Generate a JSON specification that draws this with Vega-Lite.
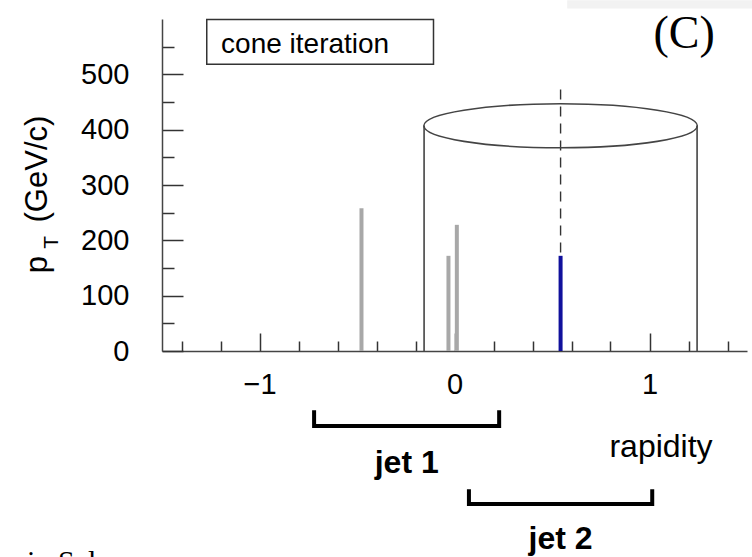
{
  "$schema": "https://vega.github.io/schema/vega-lite/v6.json",
  "width": 585,
  "height": 332,
  "autosize": {"type": "none"},
  "padding": {"left": 162, "top": 19, "right": 5, "bottom": 206},
  "background": "white",
  "config": {"view": {"stroke": null}, "font": "Liberation Sans"},
  "datasets": {
    "particles": [
      {"rapidity": -0.477, "pt": 258, "kind": "other"},
      {"rapidity": -0.031, "pt": 172, "kind": "other"},
      {"rapidity": 0.012, "pt": 228, "kind": "other"},
      {"rapidity": 0.544, "pt": 172, "kind": "seed"}
    ],
    "cone_walls": [
      {"rapidity": -0.156, "pt": 407},
      {"rapidity": 1.244, "pt": 407}
    ],
    "cone_top": [{"rapidity": 0.544, "pt": 407}],
    "cone_axis": [{"rapidity": 0.544, "pt": 178, "pt_end": 473}],
    "brackets": [
      {"bracket": "jet 1", "seq": 1, "rapidity": -0.72, "pt": -107},
      {"bracket": "jet 1", "seq": 2, "rapidity": -0.72, "pt": -135.4},
      {"bracket": "jet 1", "seq": 3, "rapidity": 0.229, "pt": -135.4},
      {"bracket": "jet 1", "seq": 4, "rapidity": 0.229, "pt": -107},
      {"bracket": "jet 2", "seq": 1, "rapidity": 0.074, "pt": -250},
      {"bracket": "jet 2", "seq": 2, "rapidity": 0.074, "pt": -276.7},
      {"bracket": "jet 2", "seq": 3, "rapidity": 1.014, "pt": -276.7},
      {"bracket": "jet 2", "seq": 4, "rapidity": 1.014, "pt": -250}
    ],
    "boxes": [
      {"role": "legend", "rapidity": -1.2705, "rapidity_end": -0.1077, "pt": 599.1, "pt_end": 518}
    ],
    "bands": [
      {"rapidity": 0.578, "rapidity_end": 1.53, "pt": 619, "pt_end": 634}
    ],
    "labels": [
      {"role": "legend", "rapidity": -1.197, "pt": 538.9, "text": "cone iteration"},
      {"role": "panel", "rapidity": 1.178, "pt": 547.4, "text": "(C)"},
      {"role": "caption", "rapidity": -2.192, "pt": -397, "text": "in Sel"},
      {"role": "xtitle", "rapidity": 1.059, "pt": -191, "text": "rapidity"},
      {"role": "jet", "rapidity": -0.245, "pt": -220, "text": "jet 1"},
      {"role": "jet", "rapidity": 0.544, "pt": -358, "text": "jet 2"},
      {"role": "ytitle", "rapidity": -2.092, "pt": 155.9, "text": "p"},
      {"role": "ytitle", "rapidity": -2.092, "pt": 328.8, "text": "(GeV/c)"},
      {"role": "ysub", "rapidity": -2.033, "pt": 196.5, "text": "T"}
    ]
  },
  "encoding": {
    "x": {
      "field": "rapidity",
      "type": "quantitative",
      "scale": {"domain": [-1.5, 1.5], "nice": false, "zero": false},
      "axis": {
        "title": null,
        "grid": false,
        "values": [-1.4, -1.2, -1, -0.8, -0.6, -0.4, -0.2, 0, 0.2, 0.4, 0.6, 0.8, 1, 1.2, 1.4],
        "labelExpr": "datum.value == -1 ? '−1' : datum.value == 0 ? '0' : datum.value == 1 ? '1' : ''",
        "tickSize": {"condition": {"test": "datum.value == -1 || datum.value == 0 || datum.value == 1", "value": -18}, "value": -10},
        "tickWidth": 1.5,
        "tickColor": "#333333",
        "domainColor": "#444444",
        "domainWidth": 1.5,
        "labelFontSize": 29,
        "labelColor": "black",
        "labelPadding": 37,
        "labelOverlap": false,
        "labelFlush": false
      }
    },
    "y": {
      "field": "pt",
      "type": "quantitative",
      "scale": {"domain": [0, 600], "nice": false, "zero": false},
      "axis": {
        "title": null,
        "grid": false,
        "values": [0, 50, 100, 150, 200, 250, 300, 350, 400, 450, 500, 550],
        "labelExpr": "datum.value % 100 == 0 ? format(datum.value, 'd') : ''",
        "tickSize": {"condition": {"test": "datum.value % 100 == 0", "value": -21}, "value": -12},
        "tickWidth": 1.5,
        "tickColor": "#333333",
        "domainColor": "#444444",
        "domainWidth": 1.5,
        "labelFontSize": 29,
        "labelColor": "black",
        "labelPadding": 54,
        "labelOverlap": false,
        "labelFlush": false
      }
    }
  },
  "layer": [
    {
      "data": {"name": "bands"},
      "mark": {"type": "rect", "color": "#f2f2f2"},
      "encoding": {"x2": {"field": "rapidity_end"}, "y2": {"field": "pt_end"}}
    },
    {
      "data": {"name": "boxes"},
      "mark": {"type": "rect", "fill": "white", "stroke": "#333333", "strokeWidth": 1.5},
      "encoding": {"x2": {"field": "rapidity_end"}, "y2": {"field": "pt_end"}}
    },
    {
      "data": {"name": "particles"},
      "mark": {"type": "rule", "strokeWidth": 4},
      "encoding": {
        "y2": {"datum": 0},
        "color": {"field": "kind", "type": "nominal", "scale": {"domain": ["other", "seed"], "range": ["#a8a8a8", "#10109c"]}, "legend": null}
      }
    },
    {
      "data": {"name": "cone_walls"},
      "mark": {"type": "rule", "strokeWidth": 1.6, "color": "#444444"},
      "encoding": {"y2": {"datum": 0}}
    },
    {
      "data": {"name": "cone_axis"},
      "mark": {"type": "rule", "strokeWidth": 1.4, "color": "#333333", "strokeDash": [10, 7]},
      "encoding": {"y2": {"field": "pt_end"}}
    },
    {
      "data": {"name": "cone_top"},
      "mark": {"type": "point", "shape": "M-1,0A1,0.161,0,1,1,1,0A1,0.161,0,1,1,-1,0Z", "size": 74750, "filled": false, "stroke": "#444444", "strokeWidth": 1.6, "opacity": 1}
    },
    {
      "data": {"name": "brackets"},
      "mark": {"type": "line", "color": "black", "strokeWidth": 4, "strokeCap": "butt", "strokeJoin": "miter"},
      "encoding": {"detail": {"field": "bracket"}, "order": {"field": "seq"}}
    },
    {
      "data": {"name": "labels"},
      "transform": [{"filter": "datum.role == 'legend'"}],
      "mark": {"type": "text", "align": "left", "baseline": "alphabetic", "fontSize": 28, "color": "black"},
      "encoding": {"text": {"field": "text"}}
    },
    {
      "data": {"name": "labels"},
      "transform": [{"filter": "datum.role == 'panel'"}],
      "mark": {"type": "text", "align": "center", "baseline": "alphabetic", "font": "Liberation Serif", "fontSize": 46, "color": "black"},
      "encoding": {"text": {"field": "text"}}
    },
    {
      "data": {"name": "labels"},
      "transform": [{"filter": "datum.role == 'caption'"}],
      "mark": {"type": "text", "align": "left", "baseline": "alphabetic", "font": "Liberation Serif", "fontSize": 30, "color": "black"},
      "encoding": {"text": {"field": "text"}}
    },
    {
      "data": {"name": "labels"},
      "transform": [{"filter": "datum.role == 'xtitle'"}],
      "mark": {"type": "text", "align": "center", "baseline": "alphabetic", "fontSize": 32, "color": "black"},
      "encoding": {"text": {"field": "text"}}
    },
    {
      "data": {"name": "labels"},
      "transform": [{"filter": "datum.role == 'jet'"}],
      "mark": {"type": "text", "align": "center", "baseline": "alphabetic", "fontSize": 32, "fontWeight": "bold", "color": "black"},
      "encoding": {"text": {"field": "text"}}
    },
    {
      "data": {"name": "labels"},
      "transform": [{"filter": "datum.role == 'ytitle'"}],
      "mark": {"type": "text", "align": "center", "baseline": "alphabetic", "angle": 270, "fontSize": 31, "color": "black"},
      "encoding": {"text": {"field": "text"}}
    },
    {
      "data": {"name": "labels"},
      "transform": [{"filter": "datum.role == 'ysub'"}],
      "mark": {"type": "text", "align": "center", "baseline": "alphabetic", "angle": 270, "fontSize": 21, "color": "black"},
      "encoding": {"text": {"field": "text"}}
    }
  ]
}
